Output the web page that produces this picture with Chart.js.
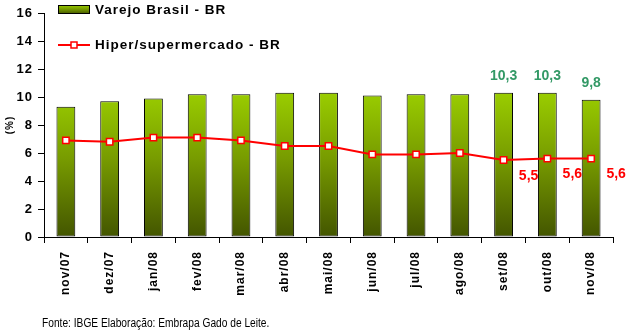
<!DOCTYPE html>
<html>
<head>
<meta charset="utf-8">
<script src="https://cdn.jsdelivr.net/npm/chart.js@4"></script>
<style>
  body { margin: 0; background: #fff; }
  #wrap { position: relative; width: 627px; height: 334px; }
  #fonte {
    position: absolute; left: 42px; top: 316px;
    font: 12px 'Liberation Sans', Arial, sans-serif; color: #000;
    transform: scaleX(0.85); transform-origin: 0 0; white-space: nowrap;
  }
</style>
</head>
<body>
<div id="wrap">
  <canvas id="varejoChart" width="627" height="334"></canvas>
  <div id="fonte">Fonte: IBGE Elaboração: Embrapa Gado de Leite.</div>
</div>
<script>
const months = ['nov/07', 'dez/07', 'jan/08', 'fev/08', 'mar/08', 'abr/08', 'mai/08',
  'jun/08', 'jul/08', 'ago/08', 'set/08', 'out/08', 'nov/08'];
const varejo = [9.3, 9.7, 9.9, 10.2, 10.2, 10.3, 10.3, 10.1, 10.2, 10.2, 10.3, 10.3, 9.8];
const hiper = [6.9, 6.8, 7.1, 7.1, 6.9, 6.5, 6.5, 5.9, 5.9, 6.0, 5.5, 5.6, 5.6];
const yTicks = [0, 2, 4, 6, 8, 10, 12, 14, 16];
const labeledMonths = ['set/08', 'out/08', 'nov/08'];

const FONT = "'Liberation Sans', Arial, sans-serif";
const fmt = v => v.toFixed(1).replace('.', ',');

function greenGradient(ctx, y0, y1) {
  const g = ctx.createLinearGradient(0, y0, 0, y1);
  g.addColorStop(0, '#9acd00');
  g.addColorStop(0.45, '#789c00');
  g.addColorStop(1, '#435500');
  return g;
}

function barFill(context) {
  const { chart } = context;
  if (!chart.chartArea) return '#99cc00';
  const top = chart.scales.y.getPixelForValue(Math.max(...varejo));
  return greenGradient(chart.ctx, top, chart.chartArea.bottom);
}

// letter spacing for the axis text, like the old spreadsheet look
const spacing = {
  id: 'spacing',
  beforeUpdate(chart) { chart.ctx.letterSpacing = '1px'; },
  beforeDraw(chart) { chart.ctx.letterSpacing = '1px'; }
};

// legend drawn inside the plot, two stacked rows
const insideLegend = {
  id: 'insideLegend',
  afterDraw(chart) {
    const { ctx, chartArea } = chart;
    const x = chartArea.left + 14;
    ctx.save();
    ctx.letterSpacing = '1px';
    ctx.font = 'bold 13.5px ' + FONT;
    ctx.textBaseline = 'middle';
    ctx.fillStyle = '#000';

    // bar swatch
    ctx.fillStyle = greenGradient(ctx, 5, 14);
    ctx.fillRect(x, 5, 32, 9);
    ctx.strokeStyle = '#000';
    ctx.lineWidth = 1;
    ctx.strokeRect(x + 0.5, 5.5, 31, 8);
    ctx.fillStyle = '#000';
    ctx.fillText('Varejo Brasil - BR', x + 37, 10);

    // line swatch
    ctx.strokeStyle = '#ff0000';
    ctx.lineWidth = 2;
    ctx.beginPath();
    ctx.moveTo(x, 45);
    ctx.lineTo(x + 32, 45);
    ctx.stroke();
    ctx.fillStyle = '#fff';
    ctx.lineWidth = 1.5;
    ctx.fillRect(x + 13, 42, 6, 6);
    ctx.strokeRect(x + 13, 42, 6, 6);
    ctx.fillStyle = '#000';
    ctx.fillText('Hiper/supermercado - BR', x + 37, 45);
    ctx.restore();
  }
};

// value labels for the last months
const valueLabels = {
  id: 'valueLabels',
  afterDatasetsDraw(chart) {
    const ctx = chart.ctx;
    ctx.save();
    ctx.letterSpacing = '0px';
    ctx.font = 'bold 14px ' + FONT;
    ctx.textAlign = 'center';
    ctx.textBaseline = 'middle';
    chart.data.datasets.forEach((ds, i) => {
      const meta = chart.getDatasetMeta(i);
      meta.data.forEach((el, j) => {
        if (!labeledMonths.includes(months[j])) return;
        if (ds.type === 'bar') {
          ctx.fillStyle = '#339966';
          ctx.fillText(fmt(ds.data[j]), el.x, el.y - 17);
        } else {
          ctx.fillStyle = '#ff0000';
          ctx.fillText(fmt(ds.data[j]), el.x + 25, el.y + 16);
        }
      });
    });
    ctx.restore();
  }
};

new Chart(document.getElementById('varejoChart'), {
  data: {
    labels: months,
    datasets: [
      {
        type: 'line',
        label: 'Hiper/supermercado - BR',
        data: hiper,
        order: 0,
        borderColor: '#ff0000',
        borderWidth: 2,
        tension: 0,
        pointStyle: 'rect',
        pointRadius: 4.5,
        pointBorderWidth: 1.5,
        pointBackgroundColor: '#ffffff',
        pointBorderColor: '#ff0000'
      },
      {
        type: 'bar',
        label: 'Varejo Brasil - BR',
        data: varejo,
        order: 1,
        backgroundColor: barFill,
        borderColor: '#000',
        borderWidth: 1,
        borderSkipped: false,
        categoryPercentage: 1,
        barPercentage: 0.43
      }
    ]
  },
  options: {
    responsive: false,
    animation: false,
    layout: { padding: { left: 0, right: 14, top: 13, bottom: 0 } },
    plugins: {
      legend: { display: false },
      tooltip: { enabled: false }
    },
    scales: {
      x: {
        offset: true,
        grid: { offset: true, drawOnChartArea: false, drawTicks: true, tickLength: 6, color: '#000' },
        border: { display: true, color: '#000', width: 1 },
        ticks: {
          maxRotation: 90, minRotation: 90, padding: 8, color: '#000',
          font: { family: FONT, size: 12, weight: 'bold' }
        },
        afterFit(scale) { scale.height = 97; }
      },
      y: {
        min: 0, max: 16,
        afterBuildTicks(scale) { scale.ticks = yTicks.map(v => ({ value: v })); },
        grid: { drawOnChartArea: false, drawTicks: true, tickLength: 6, color: '#000' },
        border: { display: true, color: '#000', width: 1 },
        ticks: {
          padding: 5, color: '#000',
          font: { family: FONT, size: 13, weight: 'bold' }
        },
        title: {
          display: true, text: '(%)', color: '#000',
          font: { family: FONT, size: 10, weight: 'bold' },
          padding: { top: 4, bottom: 0 }
        },
        afterFit(scale) { scale.width = 44; }
      }
    }
  },
  plugins: [spacing, insideLegend, valueLabels]
});
</script>
</body>
</html>
